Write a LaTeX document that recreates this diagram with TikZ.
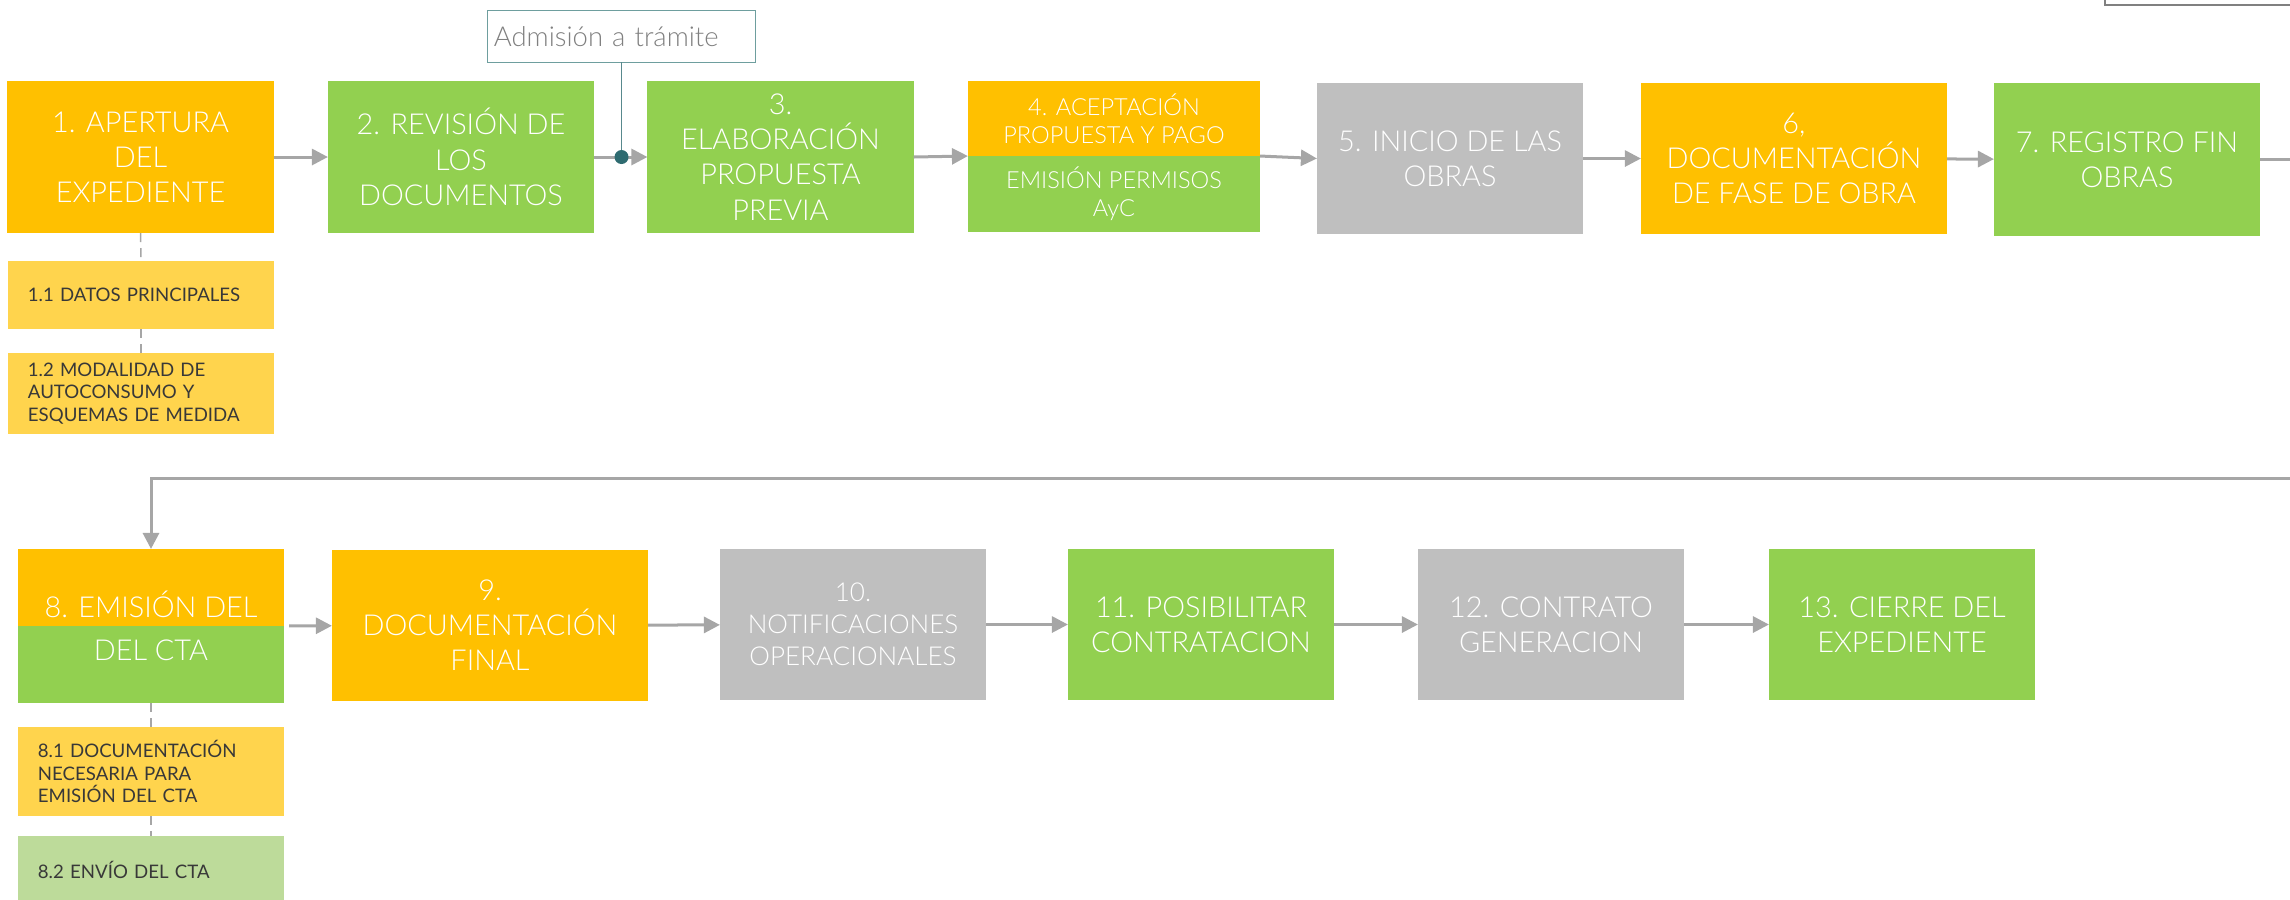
\documentclass[tikz,border=0pt]{standalone}
\usepackage{fontspec}
\setmainfont{Lato}
\newfontfamily\latofino{Lato Light}
\usepackage{xcolor}
\usetikzlibrary{positioning,arrows.meta,calc}

\definecolor{naranja}{HTML}{FFC000}
\definecolor{verde}{HTML}{92D050}
\definecolor{gris}{HTML}{BFBFBF}
\definecolor{amarillo}{HTML}{FFD44D}
\definecolor{verdeclaro}{HTML}{BDDB9A}
\definecolor{linea}{HTML}{A6A6A6}
\definecolor{petroleo}{HTML}{2E6B70}
\definecolor{borde}{HTML}{6E9E9E}

\begin{document}
\begin{tikzpicture}[x=0.01cm, y=-0.01cm, node distance=0cm, outer sep=0pt,
    paso/.style={rectangle, minimum width=2.66cm, minimum height=1.52cm, inner sep=0pt, align=center, text=white, font=\latofino\fontsize{8.2}{10}\selectfont},
    partido/.style={fill=verde, path picture={\fill[naranja] (path picture bounding box.north west) rectangle (path picture bounding box.east);}},
    detalle/.style={rectangle, minimum width=2.66cm, inner xsep=0.2cm, inner ysep=0pt, text width=2.26cm, align=left, text=black!78, font=\fontsize{5.3}{6.4}\selectfont},
    flecha/.style={draw=linea, line width=0.03cm, -{Triangle[length=0.16cm, width=0.16cm]}},
    guia/.style={draw=linea, line width=0.015cm, dash pattern=on 0.09cm off 0.06cm}]
    \clip (0,0) rectangle (2290,899);

    % fila superior
    \node (b1) [paso, fill=naranja] at (140.5,157) {1. APERTURA\\DEL\\EXPEDIENTE};
    \node (b2) [paso, fill=verde] at (461,157) {2. REVISIÓN DE\\LOS\\DOCUMENTOS};
    \node (b3) [paso, fill=verde] at (780.5,157) {3.\\ELABORACIÓN\\PROPUESTA\\PREVIA};
    \node (b4a) [paso, fill=naranja, minimum width=2.92cm, minimum height=0.75cm, font=\latofino\fontsize{6.7}{8}\selectfont] at (1114,118.5) {4. ACEPTACIÓN\\PROPUESTA Y PAGO};
    \node (b4b) [paso, fill=verde, minimum width=2.92cm, minimum height=0.76cm, font=\latofino\fontsize{6.7}{8}\selectfont, below=of b4a] {EMISIÓN PERMISOS\\AyC};
    \node (b5) [paso, fill=gris, minimum height=1.51cm] at (1450,158.5) {5. INICIO DE LAS\\OBRAS};
    \node (b6) [paso, fill=naranja, minimum width=3.06cm, minimum height=1.51cm] at (1794,158.5) {6,\\DOCUMENTACIÓN\\DE FASE DE OBRA};
    \node (b7) [paso, fill=verde, minimum height=1.53cm] at (2127,159.5) {7. REGISTRO FIN\\OBRAS};
    \node (admision) [draw=borde, line width=0.01cm, minimum width=2.67cm, minimum height=0.51cm, inner xsep=0.06cm, text width=2.55cm, align=left, text=black!50, font=\latofino\fontsize{7.8}{9}\selectfont] at (621.5,36.5) {Admisión a trámite};

    \node (s11) [detalle, fill=amarillo, minimum height=0.68cm] at (141,295) {1.1 DATOS PRINCIPALES};
    \node (s12) [detalle, fill=amarillo, minimum height=0.81cm] at (141,393.5) {1.2 MODALIDAD DE\\AUTOCONSUMO Y\\ESQUEMAS DE MEDIDA};

    % fila inferior
    \node (b8) [paso, partido, minimum height=1.54cm, font=\latofino\fontsize{8.2}{12.2}\selectfont] at (151,626) {8. EMISIÓN DEL\\DEL CTA};
    \node (b9) [paso, fill=naranja, minimum width=3.16cm, minimum height=1.51cm] at (490,625.5) {9.\\DOCUMENTACIÓN\\FINAL};
    \node (b10) [paso, fill=gris, minimum height=1.51cm, font=\latofino\fontsize{7.4}{9.1}\selectfont] at (853,624.5) {10.\\NOTIFICACIONES\\OPERACIONALES};
    \node (b11) [paso, fill=verde, minimum height=1.51cm] at (1201,624.5) {11. POSIBILITAR\\CONTRATACION};
    \node (b12) [paso, fill=gris, minimum height=1.51cm] at (1551,624.5) {12. CONTRATO\\GENERACION};
    \node (b13) [paso, fill=verde, minimum height=1.51cm] at (1902,624.5) {13. CIERRE DEL\\EXPEDIENTE};

    \node (s81) [detalle, fill=amarillo, minimum height=0.89cm] at (151,771.5) {8.1 DOCUMENTACIÓN\\NECESARIA PARA\\EMISIÓN DEL CTA};
    \node (s82) [detalle, fill=verdeclaro, minimum height=0.68cm] at (151,870) {8.2 ENVÍO DEL CTA};

    % conectores
    \draw[flecha] (b1) -- (b2);
    \draw[flecha] (b2) -- (b3);
    \draw[flecha] (b3.east) -- (b4a.south west);
    \draw[flecha] (b4a.south east) -- (b5.west);
    \draw[flecha] (b5) -- (b6);
    \draw[flecha] (b6) -- (b7);
    \node (punto) [circle, fill=petroleo, minimum size=0.14cm, inner sep=0pt] at (admision.south |- b2.east) {};
    \draw[petroleo!80, line width=0.01cm] (admision) -- (punto);

    \coordinate (vuelta) at (2330,478);
    \draw[flecha] (b7) -| (vuelta) -| (b8);

    \draw[flecha, shorten <=0.05cm] (b8) -- (b9);
    \draw[flecha] (b9) -- (b10);
    \draw[flecha] (b10) -- (b11);
    \draw[flecha] (b11) -- (b12);
    \draw[flecha] (b12) -- (b13);

    \draw[guia] (b1.south) -- (s11.north);
    \draw[guia] (s11.south) -- (s12.north);
    \draw[guia] (b8.south) -- (s81.north);
    \draw[guia] (s81.south) -- (s82.north);

    % recuadro cortado arriba a la derecha
    \draw[black!50, line width=0.02cm] (2105,-20) rectangle (2400,5);
\end{tikzpicture}
\end{document}
